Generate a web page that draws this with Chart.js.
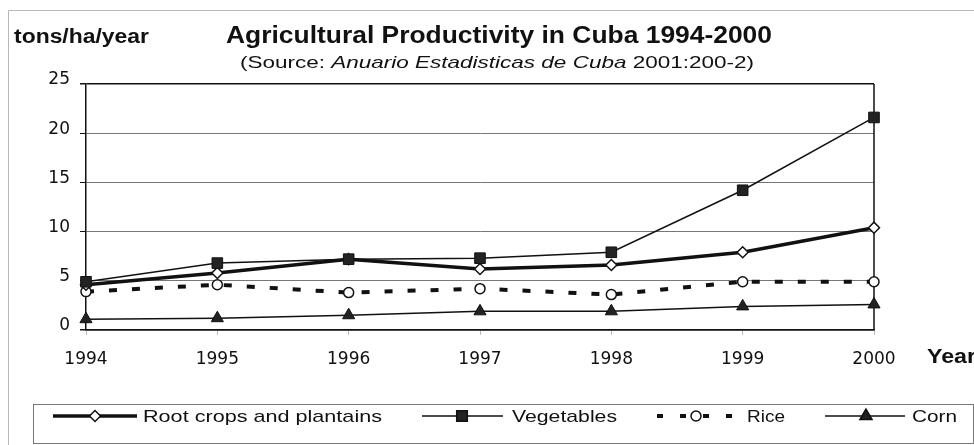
<!DOCTYPE html>
<html lang="en">
<head>
  <meta charset="UTF-8">
  <title>Agricultural Productivity in Cuba 1994-2000</title>
  <script src="https://cdn.jsdelivr.net/npm/chart.js"></script>
  <style>
    body { margin: 0; background: #fff; }
    canvas { display: block; }
  </style>
</head>
<body>
  <canvas id="cubaChart" width="974" height="445"></canvas>

  <script>
    // values, tons/ha/year
    const years = ['1994', '1995', '1996', '1997', '1998', '1999', '2000'];
    const rootCrops = [4.6, 5.8, 7.2, 6.2, 6.6, 7.9, 10.4];
    const vegetables = [4.9, 6.8, 7.2, 7.3, 7.9, 14.2, 21.6];
    const rice = [3.9, 4.6, 3.8, 4.2, 3.6, 4.9, 4.9];
    const corn = [1.1, 1.2, 1.5, 1.9, 1.9, 2.4, 2.6];
    const seriesNames = ['Root crops and plantains', 'Vegetables', 'Rice', 'Corn'];

    const INK = '#111';

    // draw text squeezed/stretched horizontally to a given width
    function fitText(ctx, text, x, y, font, width) {
      ctx.save();
      ctx.font = font;
      const w = ctx.measureText(text).width;
      ctx.translate(x, y);
      ctx.scale(width / w, 1);
      ctx.fillText(text, 0, 0);
      ctx.restore();
    }

    function drawMarker(ctx, style, radius, fill, x, y) {
      ctx.save();
      ctx.fillStyle = fill;
      ctx.strokeStyle = INK;
      ctx.lineWidth = 1.5;
      ctx.setLineDash([]);
      Chart.helpers.drawPoint(ctx, { pointStyle: style, radius: radius, rotation: 0, borderWidth: 1.5 }, x, y);
      ctx.restore();
    }

    const decorations = {
      id: 'decorations',
      beforeDatasetsDraw(chart) {
        const { ctx, chartArea } = chart;
        ctx.save();
        ctx.strokeStyle = INK;
        ctx.lineWidth = 1.5;
        ctx.beginPath();
        ctx.moveTo(chartArea.right, chartArea.top);
        ctx.lineTo(chartArea.right, chartArea.bottom);
        ctx.stroke();
        ctx.restore();
      },
      afterDraw(chart) {
        const ctx = chart.ctx;
        ctx.save();
        ctx.textBaseline = 'alphabetic';
        ctx.textAlign = 'left';
        ctx.fillStyle = INK;

        // faint page frame
        ctx.strokeStyle = '#b8b8b8';
        ctx.lineWidth = 1;
        ctx.beginPath();
        ctx.moveTo(8.5, 445);
        ctx.lineTo(8.5, 10.5);
        ctx.lineTo(974, 10.5);
        ctx.stroke();

        fitText(ctx, 'tons/ha/year', 14, 43, 'bold 20px "Liberation Sans"', 135);
        fitText(ctx, 'Agricultural Productivity in Cuba 1994-2000', 226, 43, 'bold 23px "Liberation Sans"', 546);

        // subtitle with italic source name
        const parts = [
          ['(Source: ', '17px "Liberation Sans"'],
          ['Anuario Estadisticas de Cuba', 'italic 17px "Liberation Sans"'],
          [' 2001:200-2)', '17px "Liberation Sans"']
        ];
        let total = 0;
        parts.forEach(p => { ctx.font = p[1]; total += ctx.measureText(p[0]).width; });
        const k = 514 / total;
        let px = 240;
        parts.forEach(p => {
          ctx.font = p[1];
          const w = ctx.measureText(p[0]).width * k;
          fitText(ctx, p[0], px, 68, p[1], w);
          px += w;
        });

        ctx.font = 'bold 20px "Liberation Sans"';
        const yw = ctx.measureText('Year').width * 1.16;
        fitText(ctx, 'Year', 927, 363, 'bold 20px "Liberation Sans"', yw);

        // legend box
        ctx.strokeStyle = '#777';
        ctx.lineWidth = 1;
        ctx.strokeRect(33.5, 404.5, 940, 39);

        const ly = 416;
        ctx.strokeStyle = INK;
        ctx.lineCap = 'butt';

        ctx.lineWidth = 3.5;
        ctx.beginPath(); ctx.moveTo(53, ly); ctx.lineTo(137, ly); ctx.stroke();
        drawMarker(ctx, 'rectRot', 5.5, '#fff', 95, ly);

        ctx.lineWidth = 1.5;
        ctx.beginPath(); ctx.moveTo(422, ly); ctx.lineTo(503, ly); ctx.stroke();
        drawMarker(ctx, 'rect', 7.5, '#222', 462, ly);

        ctx.lineWidth = 4;
        ctx.setLineDash([6, 17]);
        ctx.beginPath(); ctx.moveTo(657, ly); ctx.lineTo(735, ly); ctx.stroke();
        ctx.setLineDash([]);
        drawMarker(ctx, 'circle', 5, '#fff', 696, ly);

        ctx.lineWidth = 1.5;
        ctx.beginPath(); ctx.moveTo(825, ly); ctx.lineTo(905, ly); ctx.stroke();
        drawMarker(ctx, 'triangle', 7, '#222', 866, ly);

        ctx.fillStyle = INK;
        const lf = '17px "Liberation Sans"';
        fitText(ctx, seriesNames[0], 143, 422, lf, 239);
        fitText(ctx, seriesNames[1], 512, 422, lf, 105);
        fitText(ctx, seriesNames[2], 747, 422, lf, 38);
        fitText(ctx, seriesNames[3], 912, 422, lf, 45);

        ctx.restore();
      }
    };

    const ctx = document.getElementById('cubaChart').getContext('2d');
    new Chart(ctx, {
      type: 'line',
      data: {
        labels: years,
        datasets: [
          {
            label: seriesNames[0],
            data: rootCrops,
            order: 1,
            borderColor: INK,
            borderWidth: 3.5,
            pointStyle: 'rectRot',
            pointRadius: 5.5,
            pointBackgroundColor: '#fff',
            pointBorderColor: INK,
            pointBorderWidth: 1.5
          },
          {
            label: seriesNames[1],
            data: vegetables,
            order: 0,
            borderColor: INK,
            borderWidth: 1.5,
            pointStyle: 'rect',
            pointRadius: 7.5,
            pointBackgroundColor: '#222',
            pointBorderColor: INK,
            pointBorderWidth: 1
          },
          {
            label: seriesNames[2],
            data: rice,
            order: 2,
            borderColor: INK,
            borderWidth: 4,
            borderDash: [8, 15],
            borderCapStyle: 'butt',
            pointStyle: 'circle',
            pointRadius: 5,
            pointBackgroundColor: '#fff',
            pointBorderColor: INK,
            pointBorderWidth: 1.5
          },
          {
            label: seriesNames[3],
            data: corn,
            order: 3,
            borderColor: INK,
            borderWidth: 1.5,
            pointStyle: 'triangle',
            pointRadius: 7,
            pointBackgroundColor: '#222',
            pointBorderColor: INK,
            pointBorderWidth: 1
          }
        ]
      },
      options: {
        responsive: false,
        animation: false,
        clip: false,
        layout: { padding: { left: 0, right: 100, top: 84, bottom: 0 } },
        plugins: {
          legend: { display: false },
          title: { display: false },
          tooltip: { enabled: false }
        },
        elements: { line: { tension: 0, fill: false } },
        scales: {
          x: {
            afterFit(scale) { scale.height = 115; },
            grid: { drawOnChartArea: false, tickLength: 5, tickColor: '#bbb' },
            border: { color: INK, width: 1.5 },
            ticks: {
              padding: 14,
              color: INK,
              font: { family: 'DejaVu Sans', size: 17 }
            }
          },
          y: {
            min: 0,
            max: 25,
            afterFit(scale) { scale.width = 86; },
            grid: {
              color: c => (c.tick && (c.tick.value === 0 || c.tick.value === 25)) ? INK : '#777',
              lineWidth: c => (c.tick && (c.tick.value === 0 || c.tick.value === 25)) ? 1.5 : 1,
              tickLength: 6,
              tickColor: INK
            },
            border: { color: INK, width: 1.5 },
            ticks: {
              stepSize: 5,
              padding: 10,
              labelOffset: -4,
              color: INK,
              font: { family: 'DejaVu Sans', size: 17 }
            }
          }
        }
      },
      plugins: [decorations]
    });
  </script>
</body>
</html>
